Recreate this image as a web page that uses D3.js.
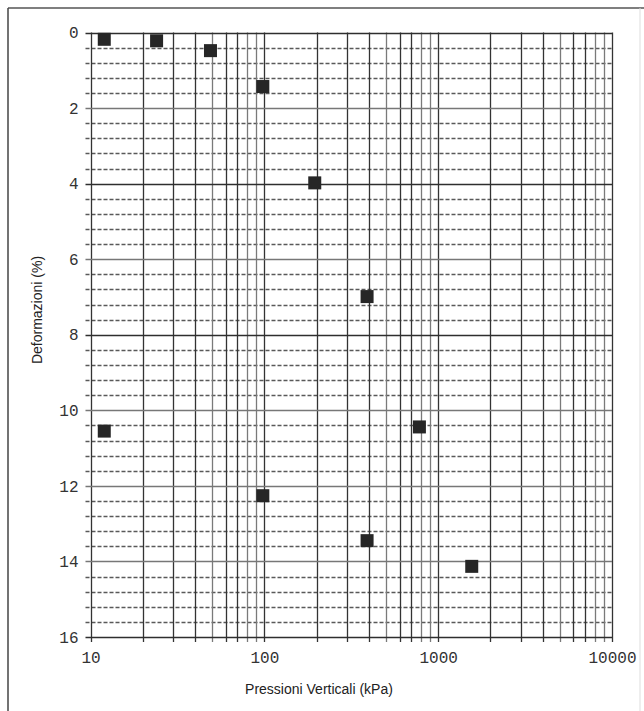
<!DOCTYPE html>
<html>
<head>
<meta charset="utf-8">
<script src="https://cdn.jsdelivr.net/npm/d3@7"></script>
<style>
  html, body { margin: 0; padding: 0; background: #ffffff; }
  svg { display: block; }
</style>
</head>
<body>
<svg id="chart" width="644" height="711"></svg>
<script>
// ---- data ----
const pressures = [12, 24, 49, 98, 195, 390, 780, 1560, 390, 98, 12];          // kPa
const strains   = [0.18, 0.22, 0.48, 1.43, 3.98, 6.99, 10.44, 14.13, 13.45, 12.26, 10.55]; // %
const xTickLabels = [10, 100, 1000, 10000];
const yTickLabels = [0, 2, 4, 6, 8, 10, 12, 14, 16];
const xTitle = "Pressioni Verticali (kPa)";
const yTitle = "Deformazioni (%)";

(function () {
const svg = d3.select("#chart");
const pL = 90.5, pR = 612, pT = 32.5, pB = 637;

const x = d3.scaleLog().domain([10, 10000]).range([pL, pR]);
const y = d3.scaleLinear().domain([0, 16]).range([pT, pB]);

// outer frame
svg.append("line").attr("x1", 8).attr("x2", 644).attr("y1", 8).attr("y2", 8)
  .attr("stroke", "#555").attr("stroke-width", 1.5);
svg.append("line").attr("x1", 8).attr("x2", 8).attr("y1", 8).attr("y2", 711)
  .attr("stroke", "#444").attr("stroke-width", 1.5);
svg.append("line").attr("x1", 640).attr("x2", 640).attr("y1", 8).attr("y2", 711)
  .attr("stroke", "#ddd").attr("stroke-width", 1);

// minor horizontal grid (dashed)
const yMinor = d3.range(0, 16.001, 0.4).map(v => +v.toFixed(1)).filter(v => Math.abs(v / 2 - Math.round(v / 2)) > 1e-6);
svg.append("g").selectAll("line").data(yMinor).join("line")
  .attr("x1", pL - 5).attr("x2", pR)
  .attr("y1", d => Math.round(y(d)) + 0.5).attr("y2", d => Math.round(y(d)) + 0.5)
  .attr("stroke", "#595959").attr("stroke-width", 1.3).attr("stroke-dasharray", "4,2");

// vertical grid (every log minor tick)
const xMinor = x.ticks(); // 10,20,...,10000
const darkSet = new Set([10, 20, 30, 40, 60, 70, 100, 200, 300, 400, 600, 700, 1000, 2000, 3000, 4000, 6000, 7000, 10000]);
svg.append("g").selectAll("line").data(xMinor).join("line")
  .attr("x1", d => Math.round(x(d)) + 0.5).attr("x2", d => Math.round(x(d)) + 0.5)
  .attr("y1", pT).attr("y2", pB + 5)
  .attr("stroke", d => darkSet.has(d) ? "#333" : "#7a7a7a")
  .attr("stroke-width", 1.3);

// major horizontal grid
const darkMajors = new Set([0, 4, 8, 16]);
svg.append("g").selectAll("line").data(yTickLabels).join("line")
  .attr("x1", pL - 5).attr("x2", pR)
  .attr("y1", d => Math.round(y(d)) + 0.5).attr("y2", d => Math.round(y(d)) + 0.5)
  .attr("stroke", d => darkMajors.has(d) ? "#2e2e2e" : "#777")
  .attr("stroke-width", d => darkMajors.has(d) ? 1.5 : 1.7);

// y axis labels
const yAxis = d3.axisLeft(y).tickValues(yTickLabels).tickSize(0).tickPadding(12).tickFormat(d3.format("d"));
const gy = svg.append("g").attr("transform", `translate(${pL},0)`).call(yAxis);
gy.select(".domain").remove();
gy.selectAll("text").attr("font-family", "Liberation Mono, monospace").attr("font-size", 16).attr("fill", "#333");

// x axis labels
const xAxis = d3.axisBottom(x).tickValues(xTickLabels).tickSize(0).tickPadding(15).tickFormat(d3.format("d"));
const gx = svg.append("g").attr("transform", `translate(0,${pB})`).call(xAxis);
gx.select(".domain").remove();
gx.selectAll("text").attr("font-family", "Liberation Mono, monospace").attr("font-size", 16).attr("fill", "#333");

// axis titles
svg.append("text").attr("x", 319).attr("y", 694).attr("text-anchor", "middle")
  .attr("font-family", "Liberation Sans, Arial, sans-serif").attr("font-size", 14).attr("fill", "#222")
  .text(xTitle);
svg.append("text").attr("transform", "translate(42,310) rotate(-90)").attr("text-anchor", "middle")
  .attr("font-family", "Liberation Sans, Arial, sans-serif").attr("font-size", 14).attr("fill", "#222")
  .text(yTitle);

// data points (squares)
const s = 13;
svg.append("g").selectAll("rect").data(pressures.map((p, i) => ({ p, e: strains[i] }))).join("rect")
  .attr("x", d => x(d.p) - s / 2).attr("y", d => y(d.e) - s / 2)
  .attr("width", s).attr("height", s)
  .attr("fill", "#262626");
})();
</script>
</body>
</html>
